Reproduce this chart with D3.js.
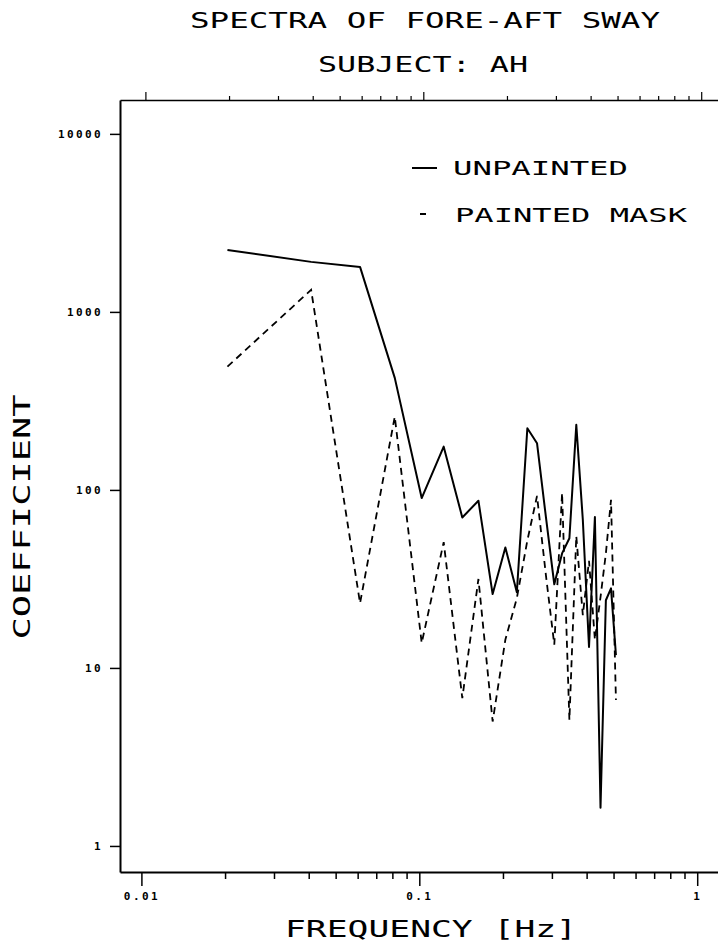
<!DOCTYPE html>
<html>
<head>
<meta charset="utf-8">
<script src="https://cdn.jsdelivr.net/npm/d3@7"></script>
<style>
    body { margin: 0; background: #fff; }
    text { fill: #000; }
</style>
</head>
<body>
<div id="espectro"></div>
<script>
// Datos (frecuencia en Hz, coeficiente)
const frequencies = [0.0204, 0.0408, 0.0612, 0.0816, 0.102, 0.1224, 0.1428, 0.1632, 0.1836,
    0.204, 0.2244, 0.2448, 0.2652, 0.2856, 0.306, 0.3264, 0.3468, 0.3672, 0.3876, 0.408,
    0.4284, 0.4488, 0.4692, 0.4896, 0.51];

const unpainted = [2230, 1910, 1790, 426, 90, 175, 70, 87, 26, 47.5, 26.6, 222, 183, 70,
    29.5, 44, 53.5, 232, 68, 13.1, 70.5, 1.64, 24, 28, 11.8];

const paintedMask = [493, 1330, 23.1, 258, 13.8, 50.9, 6.76, 31.6, 5.0, 14.4, 24.7, 52, 92.5,
    33, 13.5, 96, 5.1, 55, 19.8, 40, 14.4, 25, 44, 88, 6.6];

const xMajorTicks = [0.01, 0.1, 1];
const xMinorTicks = [0.02, 0.03, 0.04, 0.05, 0.06, 0.07, 0.08, 0.09,
    0.2, 0.3, 0.4, 0.5, 0.6, 0.7, 0.8, 0.9];
const yTicks = [1, 10, 100, 1000, 10000];

const datos = frequencies.map((f, i) => ({ f: f, u: unpainted[i], p: paintedMask[i] }));

const svgWidth = 718, svgHeight = 946;
const margin = { top: 100, right: 0, bottom: 74, left: 120 };
const width = svgWidth - margin.left - margin.right;
const height = svgHeight - margin.top - margin.bottom;

const svg = d3.select("#espectro")
    .append("svg")
    .attr("width", svgWidth)
    .attr("height", svgHeight);

const g = svg.append("g")
    .attr("transform", `translate(${margin.left}, ${margin.top})`);

// Escalas log-log
const x = d3.scaleLog().domain([0.008375, 1.188]).range([0, width]);
const y = d3.scaleLog().domain([0.714, 15500]).range([height, 0]);

const tickFont = sel => sel
    .attr("font-family", "'DejaVu Sans Mono', monospace")
    .attr("font-weight", "bold")
    .attr("font-size", 11)
    .attr("letter-spacing", 2.4);

// Eje inferior
g.append("g")
    .attr("transform", `translate(0, ${height})`)
    .call(d3.axisBottom(x).tickValues(xMinorTicks).tickSize(7).tickFormat(""))
    .call(a => a.select(".domain").remove())
    .selectAll("line").attr("stroke-width", 1.5);

g.append("g")
    .attr("transform", `translate(0, ${height})`)
    .call(d3.axisBottom(x).tickValues(xMajorTicks).tickSizeInner(14).tickSizeOuter(0)
        .tickPadding(6).tickFormat(d => String(d)))
    .call(tickFont)
    .call(a => a.select(".domain").attr("stroke-width", 2))
    .call(a => a.selectAll("line").attr("stroke-width", 1.5));

// Eje superior (marcas hacia arriba)
g.append("g")
    .call(d3.axisTop(x).tickValues([]).tickSizeOuter(0))
    .select(".domain").attr("stroke-width", 1.5);

g.append("g")
    .attr("transform", "translate(4, 0)")
    .call(d3.axisTop(x).tickValues(xMinorTicks).tickSize(4).tickFormat(""))
    .call(a => a.select(".domain").remove())
    .selectAll("line").attr("stroke-width", 1.2);

g.append("g")
    .attr("transform", "translate(4, 0)")
    .call(d3.axisTop(x).tickValues(xMajorTicks).tickSize(8).tickFormat(""))
    .call(a => a.select(".domain").remove())
    .selectAll("line").attr("stroke-width", 1.2);

// Eje izquierdo
g.append("g")
    .call(d3.axisLeft(y).tickValues(yTicks).tickSizeInner(10).tickSizeOuter(0)
        .tickPadding(7).tickFormat(d3.format("d")))
    .call(tickFont)
    .call(a => a.select(".domain").attr("stroke-width", 2))
    .call(a => a.selectAll("line").attr("stroke-width", 1.5));

// Lineas
const lineUnpainted = d3.line()
    .x(d => x(d.f))
    .y(d => y(d.u));

g.append("path")
    .datum(datos)
    .attr("fill", "none")
    .attr("stroke", "#000")
    .attr("stroke-width", 2)
    .attr("stroke-linejoin", "round")
    .attr("d", lineUnpainted);

const linePainted = d3.line()
    .x(d => x(d.f))
    .y(d => y(d.p));

g.append("path")
    .datum(datos)
    .attr("fill", "none")
    .attr("stroke", "#000")
    .attr("stroke-width", 1.8)
    .attr("stroke-dasharray", "7,5")
    .attr("d", linePainted);

// Titulos: letra ancha tipo plotter (monoespaciada estirada)
const bigText = (sel, size, len) => sel
    .attr("font-family", "'DejaVu Sans Mono', monospace")
    .attr("font-size", size)
    .attr("textLength", len)
    .attr("lengthAdjust", "spacingAndGlyphs");

svg.append("text").attr("x", 425).attr("y", 28).attr("text-anchor", "middle")
    .text("SPECTRA OF FORE-AFT SWAY").call(bigText, 22, 470);
svg.append("text").attr("x", 423).attr("y", 72).attr("text-anchor", "middle")
    .text("SUBJECT: AH").call(bigText, 22, 210);

svg.append("text").attr("x", 431).attr("y", 937).attr("text-anchor", "middle")
    .text("FREQUENCY [Hz]").call(bigText, 23, 292);

svg.append("text")
    .attr("transform", "translate(30, 517) rotate(-90)")
    .attr("text-anchor", "middle")
    .text("COEFFICIENT").call(bigText, 23, 245);

// Leyenda
const legend = svg.append("g");
legend.append("line").attr("x1", 412).attr("x2", 437).attr("y1", 168).attr("y2", 168)
    .attr("stroke", "#000").attr("stroke-width", 2);
legend.append("text").attr("x", 453).attr("y", 175).text("UNPAINTED").call(bigText, 20, 175);

legend.append("line").attr("x1", 420).attr("x2", 426).attr("y1", 214).attr("y2", 214)
    .attr("stroke", "#000").attr("stroke-width", 2);
legend.append("text").attr("x", 455).attr("y", 222).text("PAINTED MASK").call(bigText, 20, 232);
</script>
</body>
</html>
